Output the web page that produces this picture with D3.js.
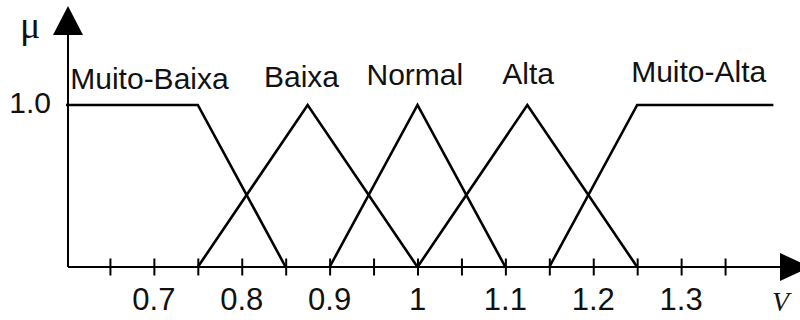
<!DOCTYPE html>
<html>
<head>
<meta charset="utf-8">
<script src="https://cdn.jsdelivr.net/npm/d3@7"></script>
<style>
  html, body { margin: 0; padding: 0; background: #fff; }
  svg { display: block; }
</style>
</head>
<body>
<svg id="chart" width="800" height="320"></svg>
<script>
// ---- data ----
const setNames = ["Muito-Baixa", "Baixa", "Normal", "Alta", "Muito-Alta"];
const setX = [
  [0.6, 0.75, 0.85],
  [0.75, 0.875, 1.0],
  [0.9, 1.0, 1.1],
  [1.0, 1.125, 1.25],
  [1.15, 1.25, 1.405]
];
const setMu = [
  [1, 1, 0],
  [0, 1, 0],
  [0, 1, 0],
  [0, 1, 0],
  [0, 1, 1]
];
const labelAt = [0.695, 0.868, 0.997, 1.126, 1.32];
const minorTicks = [0.65, 0.7, 0.75, 0.8, 0.85, 0.9, 0.95, 1.0, 1.05, 1.1, 1.15, 1.2, 1.25, 1.3, 1.35];
const tickLabelValues = [0.7, 0.8, 0.9, 1.0, 1.1, 1.2, 1.3];
const tickLabels = ["0.7", "0.8", "0.9", "1", "1.1", "1.2", "1.3"];
const yTickValues = [1.0];
const yTickLabels = ["1.0"];

// ---- drawing ----
const svg = d3.select("#chart");
const x = d3.scaleLinear().domain([0.6, 1.4]).range([66, 769]);
const y = d3.scaleLinear().domain([0, 1]).range([267, 105]);
const x0 = 68, yAxisTop = 35, xAxisEnd = 780;

// axes lines
svg.append("line").attr("x1", x0).attr("x2", x0).attr("y1", y(0)).attr("y2", yAxisTop)
  .attr("stroke", "#000").attr("stroke-width", 2);
svg.append("line").attr("x1", x0).attr("x2", xAxisEnd).attr("y1", y(0)).attr("y2", y(0))
  .attr("stroke", "#000").attr("stroke-width", 2);

// arrows
svg.append("path").attr("d", `M${x0},6 L${x0 - 15},35 L${x0 + 15},35 Z`).attr("fill", "#000");
svg.append("path").attr("d", `M${xAxisEnd},${y(0) - 14} L${xAxisEnd + 30},${y(0)} L${xAxisEnd},${y(0) + 14} Z`).attr("fill", "#000");

// x axis ticks via d3 axis
const xAxis = d3.axisBottom(x).tickValues(minorTicks).tickSize(17).tickFormat("");
const gx = svg.append("g").attr("transform", `translate(0,${y(0) - 8.5})`).call(xAxis);
gx.select(".domain").remove();
gx.selectAll(".tick line").attr("stroke", "#000").attr("stroke-width", 2);

// tick labels
svg.append("g").selectAll("text").data(tickLabelValues).join("text")
  .attr("x", d => x(d))
  .attr("y", 310)
  .attr("text-anchor", "middle")
  .attr("font-family", "'Liberation Sans', Arial, sans-serif")
  .attr("font-size", 31)
  .attr("fill", "#111")
  .text((d, i) => tickLabels[i]);

// y tick label
svg.append("g").selectAll("text").data(yTickValues).join("text")
  .attr("x", 51)
  .attr("y", d => y(d) + 8)
  .attr("text-anchor", "end")
  .attr("font-family", "'Liberation Sans', Arial, sans-serif")
  .attr("font-size", 30)
  .attr("fill", "#111")
  .text((d, i) => yTickLabels[i]);

// membership functions
const line = d3.line().x(d => x(d[0])).y(d => y(d[1]));
svg.append("g").selectAll("path").data(setNames).join("path")
  .attr("d", (d, i) => line(setX[i].map((v, j) => [v, setMu[i][j]])))
  .attr("fill", "none")
  .attr("stroke", "#000")
  .attr("stroke-width", 2.6)
  .attr("stroke-linejoin", "miter");

// set labels
const labelBase = [89, 87, 85, 84, 82];
svg.append("g").selectAll("text").data(setNames).join("text")
  .attr("x", (d, i) => x(labelAt[i]))
  .attr("y", (d, i) => labelBase[i])
  .attr("text-anchor", "middle")
  .attr("font-family", "'Liberation Sans', Arial, sans-serif")
  .attr("font-size", 30)
  .attr("fill", "#111")
  .text(d => d);

// axis titles
svg.append("text").attr("x", 20).attr("y", 38)
  .attr("font-family", "'Liberation Serif', 'Times New Roman', serif")
  .attr("font-size", 38).attr("fill", "#111").text("μ");
svg.append("text").attr("x", 772).attr("y", 311)
  .attr("font-family", "'Liberation Serif', 'Times New Roman', serif")
  .attr("font-style", "italic")
  .attr("font-size", 28).attr("fill", "#111").text("V");
</script>
</body>
</html>
